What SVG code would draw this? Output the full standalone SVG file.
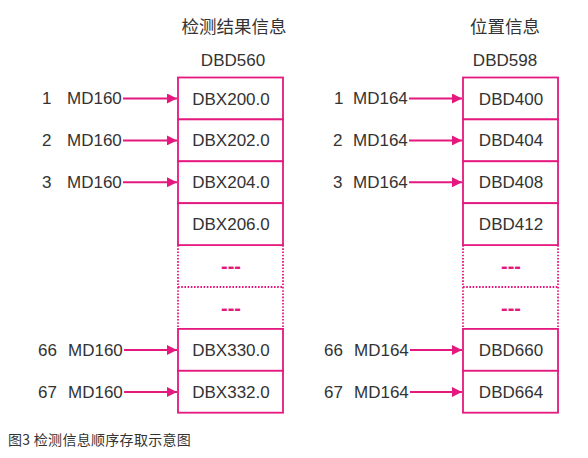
<svg xmlns="http://www.w3.org/2000/svg" width="588" height="458" viewBox="0 0 588 458">
<style>
.bg{fill:#ffffff}
.cell{fill:#ffffff;stroke:#e4187f;stroke-width:1.8}
.dot{fill:none;stroke:#e4187f;stroke-width:1.8;stroke-dasharray:1.6 1.6}
.t{font-family:"Liberation Sans","Noto Sans CJK SC",sans-serif;font-size:17px;fill:#333333}
.c{text-anchor:middle}
.h{font-family:"Noto Sans CJK SC","Liberation Sans",sans-serif;font-size:17.5px;fill:#333333;text-anchor:middle}
.dash{font-family:"Liberation Sans",sans-serif;font-size:20px;font-weight:bold;fill:#e4187f;text-anchor:middle}
.cap{font-family:"Noto Sans CJK SC","Liberation Sans",sans-serif;font-size:14px;fill:#333333;letter-spacing:0.3px}
.ln{stroke:#e4187f;stroke-width:2;fill:none}
</style>
<defs>
<marker id="ah" viewBox="0 0 10 10" refX="10" refY="5" markerWidth="11" markerHeight="10" markerUnits="userSpaceOnUse" orient="auto">
<path d="M0,0 L10,5 L0,10 z" fill="#e4187f"/>
</marker>
</defs>
<rect class="bg" x="0" y="0" width="588" height="458"/>

<g id="header-left">
<text class="h" x="234" y="33">检测结果信息</text>
<text class="t c" x="233" y="66">DBD560</text>
</g>
<g id="header-right">
<text class="h" x="505" y="33">位置信息</text>
<text class="t c" x="505" y="66">DBD598</text>
</g>

<g id="left-col">
<g id="L1"><rect class="cell" x="178" y="77.5" width="105" height="41.9"/><text class="t c" x="231" y="104.5">DBX200.0</text></g>
<g id="L2"><rect class="cell" x="178" y="119.4" width="105" height="41.9"/><text class="t c" x="231" y="146.4">DBX202.0</text></g>
<g id="L3"><rect class="cell" x="178" y="161.3" width="105" height="41.9"/><text class="t c" x="231" y="188.3">DBX204.0</text></g>
<g id="L4"><rect class="cell" x="178" y="203.2" width="105" height="41.9"/><text class="t c" x="231" y="230.2">DBX206.0</text></g>
<g id="L5"><path class="dot" d="M178,245.1 V287 M283,245.1 V287 M178,287 H283"/><text class="dash" x="231" y="273">---</text></g>
<g id="L6"><path class="dot" d="M178,287 V328.9 M283,287 V328.9"/><text class="dash" x="231" y="315">---</text></g>
<g id="L7"><rect class="cell" x="178" y="328.9" width="105" height="41.9"/><text class="t c" x="231" y="355.9">DBX330.0</text></g>
<g id="L8"><rect class="cell" x="178" y="370.8" width="105" height="41.9"/><text class="t c" x="231" y="397.8">DBX332.0</text></g>
</g>

<g id="right-col">
<g id="R1"><rect class="cell" x="463" y="77.5" width="95" height="41.9"/><text class="t c" x="511" y="104.5">DBD400</text></g>
<g id="R2"><rect class="cell" x="463" y="119.4" width="95" height="41.9"/><text class="t c" x="511" y="146.4">DBD404</text></g>
<g id="R3"><rect class="cell" x="463" y="161.3" width="95" height="41.9"/><text class="t c" x="511" y="188.3">DBD408</text></g>
<g id="R4"><rect class="cell" x="463" y="203.2" width="95" height="41.9"/><text class="t c" x="511" y="230.2">DBD412</text></g>
<g id="R5"><path class="dot" d="M463,245.1 V287 M558,245.1 V287 M463,287 H558"/><text class="dash" x="511" y="273">---</text></g>
<g id="R6"><path class="dot" d="M463,287 V328.9 M558,287 V328.9"/><text class="dash" x="511" y="315">---</text></g>
<g id="R7"><rect class="cell" x="463" y="328.9" width="95" height="41.9"/><text class="t c" x="511" y="355.9">DBD660</text></g>
<g id="R8"><rect class="cell" x="463" y="370.8" width="95" height="41.9"/><text class="t c" x="511" y="397.8">DBD664</text></g>
</g>

<g id="left-labels">
<g id="LL1"><text class="t" x="42" y="104">1</text><text class="t" x="67" y="104">MD160</text></g>
<g id="LL2"><text class="t" x="42" y="146">2</text><text class="t" x="67" y="146">MD160</text></g>
<g id="LL3"><text class="t" x="42" y="188">3</text><text class="t" x="67" y="188">MD160</text></g>
<g id="LL66"><text class="t" x="38" y="356">66</text><text class="t" x="68" y="356">MD160</text></g>
<g id="LL67"><text class="t" x="38" y="398">67</text><text class="t" x="68" y="398">MD160</text></g>
</g>
<g id="right-labels">
<g id="RL1"><text class="t" x="334" y="104">1</text><text class="t" x="353" y="104">MD164</text></g>
<g id="RL2"><text class="t" x="333" y="146">2</text><text class="t" x="353" y="146">MD164</text></g>
<g id="RL3"><text class="t" x="333" y="188">3</text><text class="t" x="353" y="188">MD164</text></g>
<g id="RL66"><text class="t" x="324" y="356">66</text><text class="t" x="354" y="356">MD164</text></g>
<g id="RL67"><text class="t" x="324" y="398">67</text><text class="t" x="354" y="398">MD164</text></g>
</g>

<g id="connectors">
<line class="ln" x1="123" y1="98.5" x2="177" y2="98.5" marker-end="url(#ah)"/>
<line class="ln" x1="123" y1="140.4" x2="177" y2="140.4" marker-end="url(#ah)"/>
<line class="ln" x1="123" y1="182.3" x2="177" y2="182.3" marker-end="url(#ah)"/>
<line class="ln" x1="124" y1="350" x2="177" y2="350" marker-end="url(#ah)"/>
<line class="ln" x1="124" y1="392" x2="177" y2="392" marker-end="url(#ah)"/>
<line class="ln" x1="409" y1="98.5" x2="462" y2="98.5" marker-end="url(#ah)"/>
<line class="ln" x1="409" y1="140.4" x2="462" y2="140.4" marker-end="url(#ah)"/>
<line class="ln" x1="409" y1="182.3" x2="462" y2="182.3" marker-end="url(#ah)"/>
<line class="ln" x1="410" y1="350" x2="462" y2="350" marker-end="url(#ah)"/>
<line class="ln" x1="410" y1="392" x2="462" y2="392" marker-end="url(#ah)"/>
</g>

<text class="cap" x="8" y="445">图3 检测信息顺序存取示意图</text>
</svg>
